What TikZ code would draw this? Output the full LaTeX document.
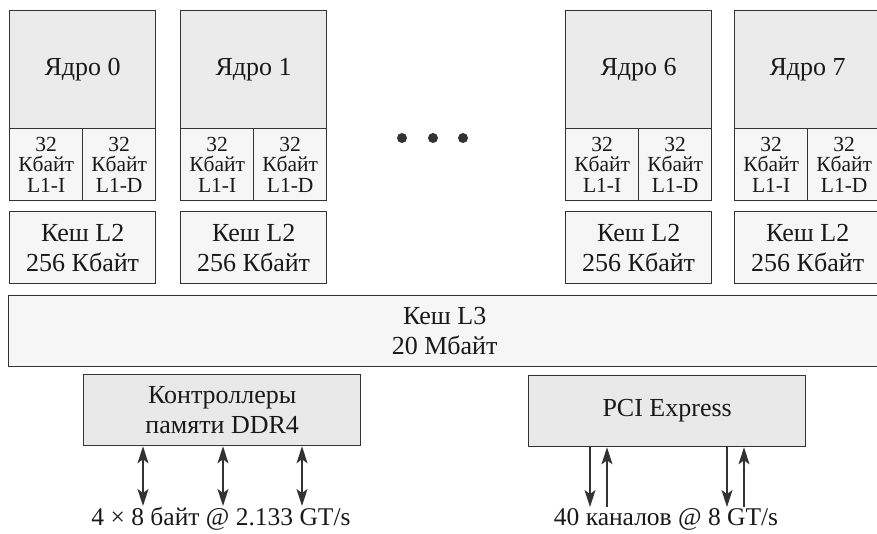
\documentclass[tikz,border=0pt]{standalone}
\usepackage{fontspec}
\setmainfont{Liberation Serif}
\usetikzlibrary{arrows.meta}
\definecolor{linec}{HTML}{333333}
\definecolor{corefill}{HTML}{EBEBEB}
\definecolor{cachefill}{HTML}{F6F6F6}
\definecolor{ctrlfill}{HTML}{E9E9E9}
\tikzset{
  box/.style={draw=linec, line width=1.3pt, inner sep=0pt, anchor=north west, align=center, text=black!90},
  corebox/.style={box, fill=corefill, minimum width=146pt, minimum height=118pt, font=\fontsize{26}{30}\selectfont},
  lonebox/.style={box, fill=cachefill, minimum width=73pt, minimum height=72pt, font=\fontsize{21.5}{20.5}\selectfont},
  ltwobox/.style={box, fill=cachefill, minimum width=146pt, minimum height=72pt, font=\fontsize{26}{30}\selectfont},
  ctrlbox/.style={box, fill=ctrlfill, minimum width=277pt, minimum height=71pt, font=\fontsize{26}{30}\selectfont},
  lbl/.style={inner sep=0pt, font=\fontsize{25.5}{30}\selectfont, text=black!90},
  tip/.tip={Stealth[length=17pt,width=11pt,inset=4pt]},
  arr/.style={linec, line width=1.2pt, -tip},
  darr/.style={linec, line width=1.2pt, tip-tip},
}
\begin{document}
\begin{tikzpicture}[x=1pt,y=-1pt]
\useasboundingbox (0,0) rectangle (877,533);
\fill[white] (0,0) rectangle (877,533);
% cores
\foreach \n/\xx in {0/9,1/180,6/565,7/734}{
  \node[corebox] (core\n) at (\xx,10) {Ядро \n};
  \node[lonebox] (li\n) at (\xx,128) {32\\Кбайт\\L1-I};
  \node[lonebox] (ld\n) at (\xx+73,128) {32\\Кбайт\\L1-D};
  \node[ltwobox] (ltwo\n) at (\xx,211) {Кеш L2\\256 Кбайт};
}
% dots
\foreach \i/\xx in {1/402,2/433,3/463}{
  \node[circle, fill=linec, inner sep=0pt, minimum size=10pt] (dot\i) at (\xx,138) {};
}
% L3
\node[box, fill=cachefill, minimum width=872pt, minimum height=71pt, font=\fontsize{26}{30}\selectfont] (lthree) at (8,295) {Кеш L3\\20 Мбайт};
% controllers
\node[ctrlbox] (ddr) at (83,374) {Контроллеры\\памяти DDR4};
\node[ctrlbox] (pci) at (528,375) {PCI Express};
% labels
\node[lbl] (ddrlbl) at (221,519) {4 × 8 байт @ 2.133 GT/s};
\node[lbl] (pcilbl) at (666,519) {40 каналов @ 8 GT/s};
% arrow ends
\coordinate (d1) at (143,506);
\coordinate (d2) at (223,506);
\coordinate (d3) at (302,506);
\coordinate (p1) at (590,507);
\coordinate (p2) at (607,507);
\coordinate (p3) at (727,507);
\coordinate (p4) at (744,507);
\foreach \c in {d1,d2,d3}{
  \draw[darr] (ddr.south -| \c) -- (\c);
}
\draw[arr] (pci.south -| p1) -- (p1);
\draw[arr] (p2) -- (pci.south -| p2);
\draw[arr] (pci.south -| p3) -- (p3);
\draw[arr] (p4) -- (pci.south -| p4);
\end{tikzpicture}
\end{document}
